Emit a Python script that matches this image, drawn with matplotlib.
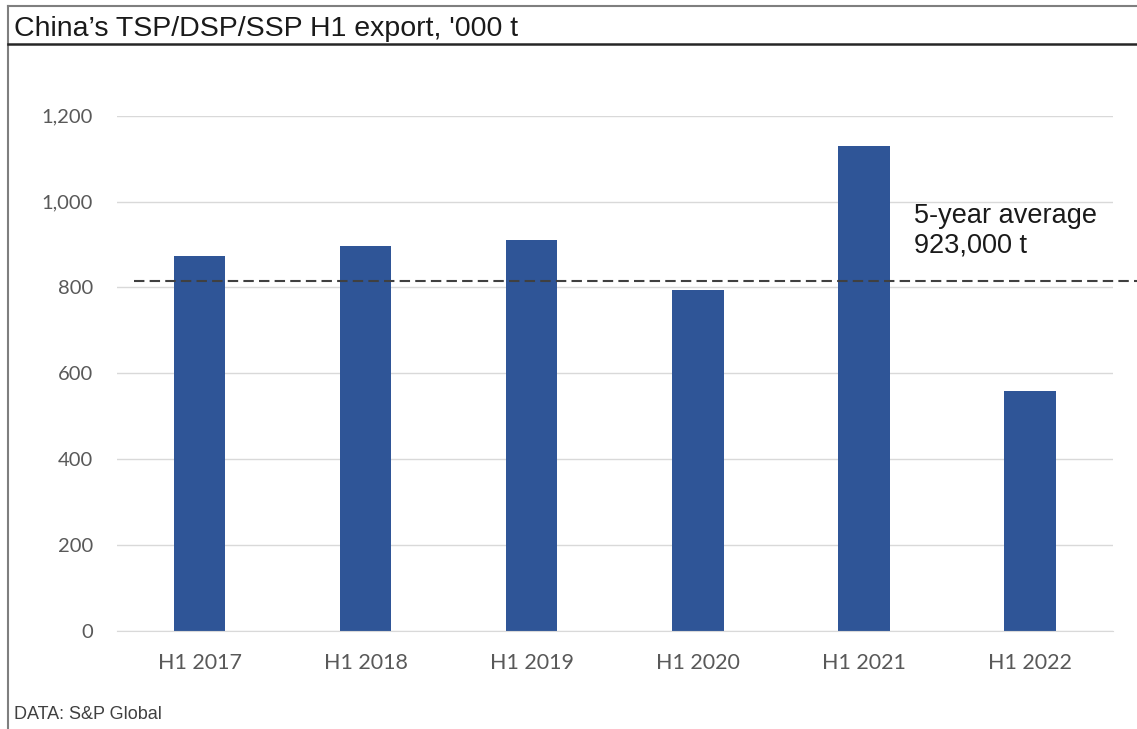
import matplotlib
matplotlib.use("Agg")
import matplotlib.pyplot as plt
from matplotlib.lines import Line2D

categories = ["H1 2017", "H1 2018", "H1 2019", "H1 2020", "H1 2021", "H1 2022"]
exports = [874, 897, 911, 795, 1130, 560]
average_line = 815
yticks = [0, 200, 400, 600, 800, 1000, 1200]
ytick_labels = ["0", "200", "400", "600", "800", "1,000", "1,200"]

W, H = 1137, 729
fig = plt.figure(figsize=(W / 100, H / 100), dpi=100)

ax = fig.add_axes([116.5 / W, 1 - 631 / H, (1113 - 116.5) / W, (631 - 115.7) / H])
x = list(range(len(categories)))
ax.bar(x, exports, width=0.31, color="#2F5597", zorder=3)
ax.set_xlim(-0.5, 5.5)
ax.set_ylim(0, 1200)
ax.set_yticks(yticks)
ax.set_yticklabels(ytick_labels)
ax.set_xticks(x)
ax.set_xticklabels(categories)
ax.grid(axis="y", color="#D9D9D9", linewidth=1, zorder=0)
for s in ["top", "right", "left"]:
    ax.spines[s].set_visible(False)
ax.spines["bottom"].set_color("#D9D9D9")
ax.spines["bottom"].set_zorder(4)
ax.tick_params(axis="both", length=0, labelsize=14.5, labelcolor="#595959")
ax.tick_params(axis="x", labelsize=15.5)
ax.tick_params(axis="y", pad=17)
ax.tick_params(axis="x", pad=15.5)
for lbl in ax.get_xticklabels() + ax.get_yticklabels():
    lbl.set_family("Lato")

# average dashed line extending to right edge of figure
ax.plot([-0.395, 5.65], [average_line, average_line], color="#404040", linestyle=(0, (5, 2.5)),
        linewidth=1.5, zorder=5, clip_on=False)
ax.text(4.30, 951, "5-year average", fontsize=19.5, family="Liberation Sans",
        color="#1a1a1a", va="baseline", ha="left", zorder=6)
ax.text(4.30, 881, "923,000 t", fontsize=19.5, family="Liberation Sans",
        color="#1a1a1a", va="baseline", ha="left", zorder=6)

# frame lines
fig.add_artist(Line2D([8 / W, 1], [1 - 5.5 / H, 1 - 5.5 / H], color="#7f7f7f", linewidth=1.5))
fig.add_artist(Line2D([8 / W, 8 / W], [0, 1 - 5.5 / H], color="#7f7f7f", linewidth=1.5))
fig.add_artist(Line2D([8 / W, 1], [1 - 43.5 / H, 1 - 43.5 / H], color="#262626", linewidth=1.8))

fig.text(14 / W, 1 - 36 / H, "China\u2019s TSP/DSP/SSP H1 export, '000 t", fontsize=20.5,
         family="Liberation Sans", color="#1a1a1a", va="baseline", ha="left")
fig.text(14 / W, 1 - 719 / H, "DATA: S&P Global", fontsize=13, family="Liberation Sans",
         color="#404040", va="baseline", ha="left")

fig.savefig("out.png", dpi=100)
